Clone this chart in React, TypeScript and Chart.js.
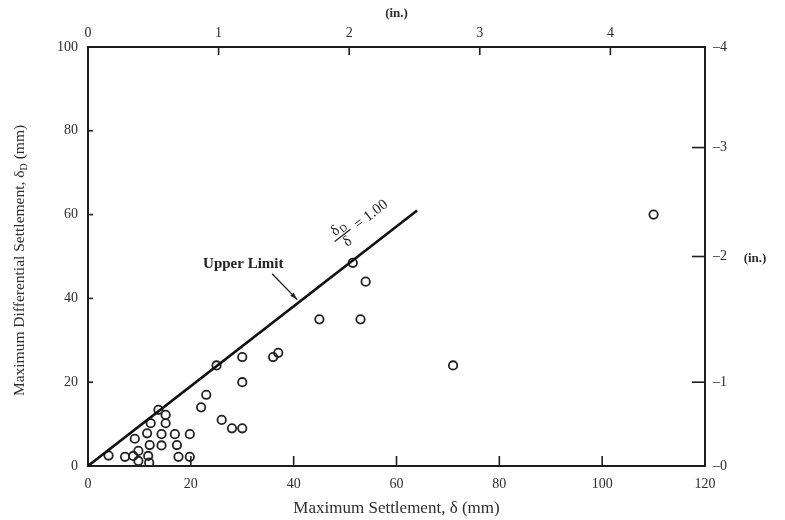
import React, { useEffect, useRef } from 'react';
import { Chart, registerables } from 'chart.js';

Chart.register(...registerables);

// Observed data (mm)
const settlementMm = [4, 7.2, 8.8, 9.8, 9.8, 9.1, 11.5, 12.2, 12, 11.7, 11.9, 13.7, 15.1, 15.1, 14.3, 16.9, 19.8, 14.3, 17.3, 17.6, 19.8, 22, 23, 25, 26, 28, 30, 30, 30, 36, 37, 45, 51.5, 53, 54, 71, 110];
const diffSettlementMm = [2.5, 2.2, 2.4, 3.6, 1.2, 6.5, 7.8, 10.2, 5, 2.4, 0.8, 13.4, 12.2, 10.2, 7.6, 7.6, 7.6, 4.9, 5, 2.2, 2.2, 14, 17, 24, 11, 9, 9, 20, 26, 26, 27, 35, 48.5, 35, 44, 24, 60];

// Upper limit line (mm)
const upperLimitX = [0, 64];
const upperLimitY = [0, 61];

// Axis ticks
const bottomTicksMm = [0, 20, 40, 60, 80, 100, 120];
const leftTicksMm = [0, 20, 40, 60, 80, 100];
const topTicksIn = [0, 1, 2, 3, 4];
const rightTickPosMm = [0, 20, 50, 76, 100];
const rightTickLabels = ['\u20130', '\u20131', '\u20132', '\u20133', '\u20134'];

// Annotations (data coordinates, mm)
const upperLimitLabel = 'Upper Limit';
const upperLimitLabelAt = [30.2, 48.1];
const arrowFrom = [35.8, 45.9];
const arrowTo = [40.7, 39.7];
const ratioLabelAtX = 52;

const MM_PER_IN = 25.4;
const SERIF = "'Liberation Serif', 'DejaVu Serif', serif";
const INK = '#1e1e1e';
const TEXT = '#2e2e2e';

const overlayPlugin = {
  id: 'overlay',
  afterDatasetsDraw(chart: any) {
    const { ctx, chartArea, scales } = chart;
    const { left, right, top, bottom } = chartArea;
    const x = scales.x, y = scales.y, x2 = scales.x2, y2 = scales.y2;
    ctx.save();
    ctx.strokeStyle = INK;
    ctx.lineWidth = 1.6;
    const seg = (a: number, b: number, c: number, d: number) => {
      ctx.beginPath(); ctx.moveTo(a, b); ctx.lineTo(c, d); ctx.stroke();
    };
    // inner tick marks
    x.ticks.forEach((t: any) => {
      if (t.value <= x.min || t.value >= x.max) return;
      const p = x.getPixelForValue(t.value);
      seg(p, bottom, p, bottom - 10);
    });
    x2.ticks.forEach((t: any) => {
      if (t.value <= x2.min || t.value >= x2.max) return;
      const p = x2.getPixelForValue(t.value);
      seg(p, top, p, top + 8);
    });
    y.ticks.forEach((t: any) => {
      if (t.value <= y.min || t.value >= y.max) return;
      const p = y.getPixelForValue(t.value);
      seg(left, p, left + 5, p);
    });
    y2.ticks.forEach((t: any) => {
      if (t.value <= y2.min || t.value >= y2.max) return;
      const p = y2.getPixelForValue(t.value);
      seg(right, p, right - 13, p);
    });

    // Upper Limit label + arrow
    ctx.fillStyle = '#222';
    ctx.font = `bold 15px ${SERIF}`;
    ctx.textAlign = 'center';
    ctx.textBaseline = 'middle';
    ctx.fillText(upperLimitLabel, x.getPixelForValue(upperLimitLabelAt[0]), y.getPixelForValue(upperLimitLabelAt[1]));
    const ax0 = x.getPixelForValue(arrowFrom[0]), ay0 = y.getPixelForValue(arrowFrom[1]);
    const ax1 = x.getPixelForValue(arrowTo[0]), ay1 = y.getPixelForValue(arrowTo[1]);
    ctx.lineWidth = 1.3;
    seg(ax0, ay0, ax1, ay1);
    const ang = Math.atan2(ay1 - ay0, ax1 - ax0);
    ctx.beginPath();
    ctx.moveTo(ax1, ay1);
    ctx.lineTo(ax1 - 8 * Math.cos(ang - 0.3), ay1 - 8 * Math.sin(ang - 0.3));
    ctx.lineTo(ax1 - 8 * Math.cos(ang + 0.3), ay1 - 8 * Math.sin(ang + 0.3));
    ctx.closePath();
    ctx.fill();

    // ratio label along the line
    const lx0 = x.getPixelForValue(upperLimitX[0]), ly0 = y.getPixelForValue(upperLimitY[0]);
    const lx1 = x.getPixelForValue(upperLimitX[1]), ly1 = y.getPixelForValue(upperLimitY[1]);
    const theta = Math.atan2(ly1 - ly0, lx1 - lx0);
    const slope = (upperLimitY[1] - upperLimitY[0]) / (upperLimitX[1] - upperLimitX[0]);
    const ox = x.getPixelForValue(ratioLabelAtX), oy = y.getPixelForValue(ratioLabelAtX * slope);
    ctx.translate(ox, oy);
    ctx.rotate(theta);
    ctx.fillStyle = '#222';
    ctx.font = `15px ${SERIF}`;
    ctx.textAlign = 'center';
    ctx.textBaseline = 'alphabetic';
    // numerator δD
    ctx.fillText('\u03b4', 1, -30);
    ctx.font = `10px ${SERIF}`;
    ctx.fillText('D', 9, -28);
    ctx.lineWidth = 1.2;
    seg(-6, -26, 14, -26);
    ctx.font = `15px ${SERIF}`;
    ctx.fillText('\u03b4', 4, -14);
    ctx.textAlign = 'left';
    ctx.textBaseline = 'middle';
    ctx.fillText('= 1.00', 20, -25);
    ctx.restore();

    // left title with subscript
    ctx.save();
    ctx.fillStyle = TEXT;
    ctx.translate(20, (top + bottom) / 2 + 4);
    ctx.rotate(-Math.PI / 2);
    ctx.textBaseline = 'middle';
    ctx.textAlign = 'left';
    const p1 = 'Maximum Differential Settlement, \u03b4';
    const p2 = 'D';
    const p3 = ' (mm)';
    ctx.font = `15.5px ${SERIF}`;
    const w1 = ctx.measureText(p1).width;
    const w3 = ctx.measureText(p3).width;
    ctx.font = `10px ${SERIF}`;
    const w2 = ctx.measureText(p2).width;
    const total = w1 + w2 + w3;
    let cx = -total / 2;
    ctx.font = `15.5px ${SERIF}`;
    ctx.fillText(p1, cx, 0);
    cx += w1;
    ctx.font = `10px ${SERIF}`;
    ctx.fillText(p2, cx, 4);
    cx += w2;
    ctx.font = `15.5px ${SERIF}`;
    ctx.fillText(p3, cx, 0);
    ctx.restore();

    // right "(in.)" label
    ctx.save();
    ctx.fillStyle = TEXT;
    ctx.font = `bold 13px ${SERIF}`;
    ctx.textAlign = 'center';
    ctx.textBaseline = 'middle';
    ctx.fillText('(in.)', right + 50, y2.getPixelForValue(rightTickPosMm[2]) + 2);
    ctx.restore();
  },
};

export default function App() {
  const ref = useRef<HTMLCanvasElement | null>(null);

  useEffect(() => {
    if (!ref.current) return;
    const points = settlementMm.map((v, i) => ({ x: v, y: diffSettlementMm[i] }));
    const limit = upperLimitX.map((v, i) => ({ x: v, y: upperLimitY[i] }));
    const tickFont = { family: SERIF, size: 14 };
    const chart = new Chart(ref.current, {
      type: 'scatter',
      data: {
        datasets: [
          {
            label: 'Upper Limit',
            data: limit,
            showLine: true,
            borderColor: '#111',
            borderWidth: 2.6,
            pointRadius: 0,
            xAxisID: 'x',
            yAxisID: 'y',
          } as any,
          {
            label: 'Observed',
            data: points,
            pointRadius: 4.2,
            pointBorderWidth: 1.8,
            borderColor: '#222',
            backgroundColor: 'rgba(255,255,255,0)',
            xAxisID: 'x',
            yAxisID: 'y',
          },
        ],
      },
      options: {
        responsive: false,
        animation: false,
        layout: { padding: 0 },
        plugins: { legend: { display: false }, tooltip: { enabled: false } },
        scales: {
          x: {
            type: 'linear',
            position: 'bottom',
            min: 0,
            max: 120,
            afterBuildTicks: (s: any) => { s.ticks = bottomTicksMm.map((v) => ({ value: v })); },
            afterFit: (s: any) => { s.height = 54; },
            ticks: { font: tickFont, color: TEXT, padding: 10, autoSkip: false, maxRotation: 0 },
            grid: { display: false, drawTicks: false },
            border: { display: true, color: INK, width: 2 },
            title: {
              display: true,
              text: 'Maximum Settlement, \u03b4 (mm)',
              font: { family: SERIF, size: 17 },
              color: TEXT,
              padding: { top: 0, bottom: 1 },
            },
          },
          x2: {
            type: 'linear',
            position: 'top',
            min: 0,
            max: 120 / MM_PER_IN,
            afterBuildTicks: (s: any) => { s.ticks = topTicksIn.map((v) => ({ value: v })); },
            afterFit: (s: any) => { s.height = 47; },
            ticks: { font: tickFont, color: TEXT, padding: 5, autoSkip: false, maxRotation: 0 },
            grid: { display: false, drawTicks: false },
            border: { display: true, color: INK, width: 2 },
            title: {
              display: true,
              text: '(in.)',
              font: { family: SERIF, size: 13, weight: 'bold' },
              color: TEXT,
              padding: { top: 6, bottom: 0 },
            },
          },
          y: {
            type: 'linear',
            position: 'left',
            min: 0,
            max: 100,
            afterBuildTicks: (s: any) => { s.ticks = leftTicksMm.map((v) => ({ value: v })); },
            afterFit: (s: any) => { s.width = 88; },
            ticks: { font: tickFont, color: TEXT, padding: 10, autoSkip: false },
            grid: { display: false, drawTicks: false },
            border: { display: true, color: INK, width: 2 },
          },
          y2: {
            type: 'linear',
            position: 'right',
            min: 0,
            max: 100,
            afterBuildTicks: (s: any) => { s.ticks = rightTickPosMm.map((v) => ({ value: v })); },
            afterFit: (s: any) => { s.width = 80; },
            ticks: {
              font: tickFont,
              color: TEXT,
              padding: 8,
              autoSkip: false,
              callback: (_v: any, i: number) => rightTickLabels[i],
            },
            grid: { display: false, drawTicks: false },
            border: { display: true, color: INK, width: 2 },
          },
        },
      },
      plugins: [overlayPlugin],
    });
    return () => chart.destroy();
  }, []);

  return (
    <div style={{ position: 'absolute', left: 0, top: 0, width: 785, height: 520, background: '#fff' }}>
      <canvas ref={ref} width={785} height={520} />
    </div>
  );
}
